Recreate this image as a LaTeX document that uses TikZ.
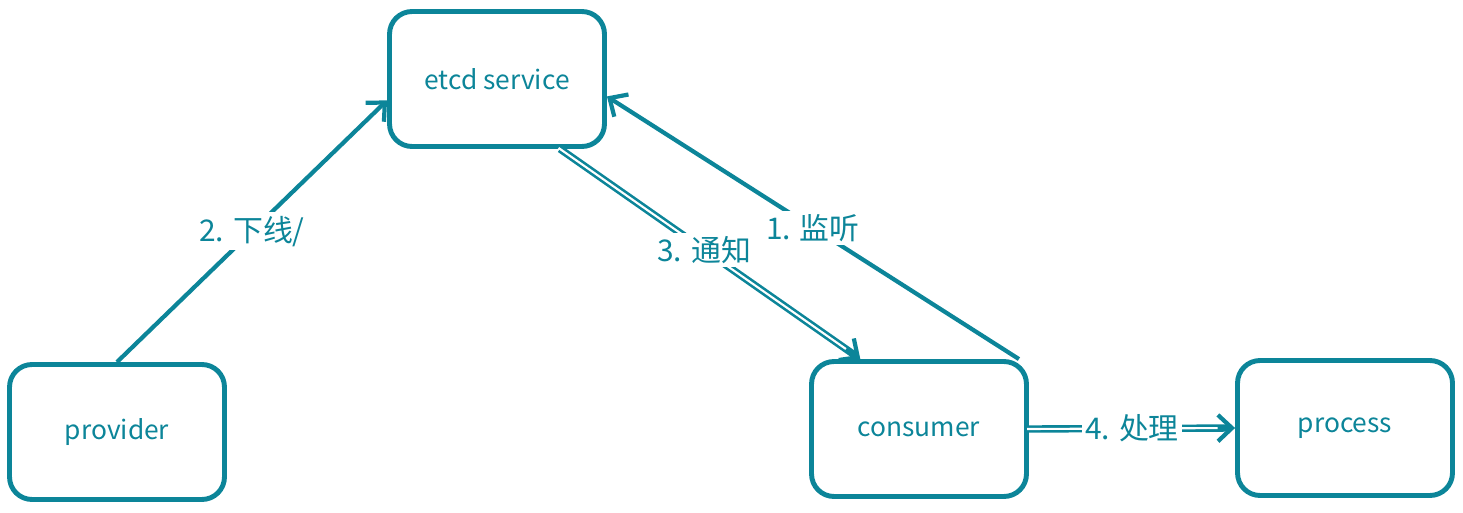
\documentclass[tikz,border=0pt]{standalone}
\usepackage{fontspec}
\setmainfont{Noto Sans CJK SC}
\usetikzlibrary{arrows.meta}
\definecolor{exteal}{RGB}{12,133,153}

\begin{document}
\begin{tikzpicture}[x=0.02cm, y=-0.02cm,
    box/.style={draw=exteal, line width=2.8pt, rounded corners=0.45cm, minimum width=4.3cm, minimum height=2.7cm, text=exteal, font=\fontsize{15}{17}\selectfont},
    link/.style={draw=exteal, line width=2.4pt, -{Straight Barb[length=8pt, width=15pt, line width=2.4pt]}},
    twin/.style={link, line width=4.2pt, postaction={draw=white, line width=1.2pt, -, shorten >=10pt, shorten <=-1pt}},
    lbl/.style={fill=white, text=exteal, font=\fontsize{17}{19}\selectfont, inner sep=2pt}]
            \useasboundingbox (0,0) rectangle (1463,513);

            \node[box] (etcd) at (497,79) {etcd service};
            \node[box] (provider) at (117,432) {provider};
            \node[box] (consumer) at (919,429) {consumer};
            \node[box] (process) at (1345,428) {process};

            \draw[link] (provider.north) -- (etcd.191) node[lbl, midway] (down) {2. 下线/};
            \draw[twin] (etcd.-48) -- (consumer.130) node[lbl, pos=0.48] (notify) {3. 通知};
            \draw[link] (consumer.35) -- (etcd.-9) node[lbl, midway] (watch) {1. 监听};
            \draw[twin] (consumer.east) -- (process.west) node[lbl, midway] (handle) {4. 处理};
            \end{tikzpicture}
\end{document}
